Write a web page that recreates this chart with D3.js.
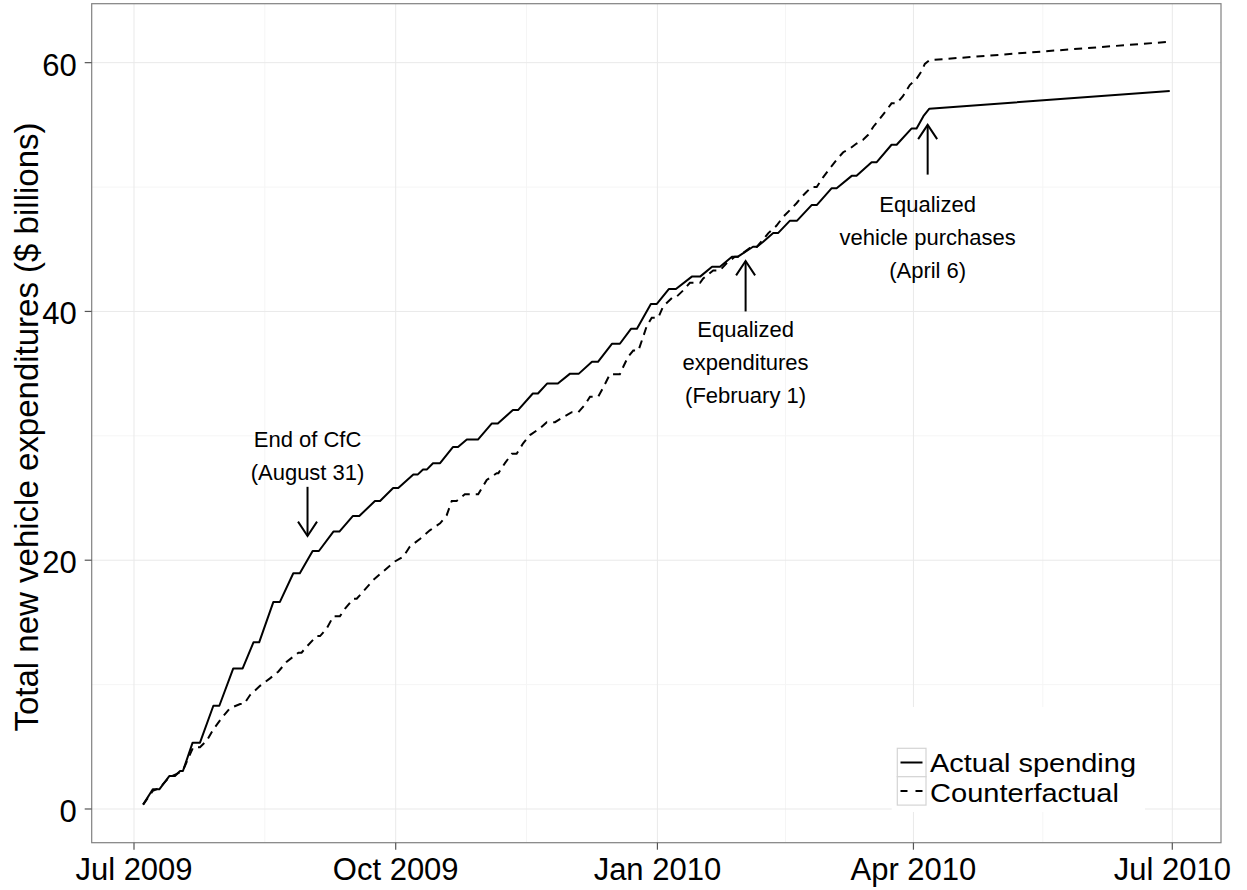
<!DOCTYPE html>
<html><head><meta charset="utf-8">
<script src="https://cdn.jsdelivr.net/npm/d3@7"></script>
<style>body{margin:0;background:#fff;} svg{display:block;font-family:"Liberation Sans",Arial,Helvetica,sans-serif;}</style>
</head><body><svg id="chart" width="1247" height="890"></svg>
<script>
// ---- data (days since 2009-07-01, $ billions) ----
const xTickDates = ["2009-07-01","2009-10-01","2010-01-01","2010-04-01","2010-07-01"];
const xTickLabels = ["Jul 2009","Oct 2009","Jan 2010","Apr 2010","Jul 2010"];
const yTicks = [0,20,40,60];
const yMinorTicks = [10,30,50];
const seriesNames = ["Actual spending","Counterfactual"];
const actual = [[3.2,0.35],[6.6,1.58],[8.9,1.58],[12.4,2.65],[14.4,2.65],[16.2,3.05],[17.2,3.05],[20.6,5.33],[23.2,5.33],[27.9,8.3],[30.0,8.3],[34.9,11.3],[38.2,11.3],[42.0,13.4],[44.0,13.4],[49.0,16.65],[51.3,16.65],[56.0,18.95],[58.3,18.95],[62.8,20.74],[65.0,20.74],[70.1,22.3],[72.2,22.3],[76.9,23.55],[79.2,23.55],[84.7,24.76],[86.5,24.76],[91.1,25.8],[92.9,25.8],[98.2,26.9],[99.8,26.9],[101.6,27.3],[103.0,27.3],[105.1,27.8],[107.6,27.8],[112.1,29.1],[113.9,29.1],[117.0,29.7],[120.9,29.7],[125.8,31.0],[127.9,31.0],[133.2,32.07],[135.0,32.07],[140.2,33.4],[142.0,33.4],[145.2,34.2],[149.0,34.2],[153.3,35.0],[156.4,35.0],[161.0,35.95],[163.1,35.95],[168.0,37.4],[170.8,37.4],[174.7,38.6],[176.8,38.6],[181.7,40.6],[183.8,40.6],[188.0,41.8],[190.5,41.8],[196.1,42.8],[199.0,42.8],[203.2,43.6],[206.0,43.6],[210.2,44.4],[212.3,44.4],[217.6,45.2],[219.0,45.2],[221.2,45.6],[224.7,46.3],[226.4,46.3],[230.6,47.3],[233.1,47.3],[238.2,48.55],[240.0,48.55],[245.2,49.9],[247.0,49.9],[252.3,50.9],[254.0,50.9],[259.3,52.0],[261.1,52.0],[266.3,53.4],[268.1,53.4],[273.3,54.7],[275.1,54.7],[277.5,55.7],[279.6,56.3],[364.1,57.72]];
const counterfactual = [[3.2,0.35],[6.6,1.45],[9.0,1.7],[12.4,2.55],[14.4,2.75],[17.2,3.1],[20.8,4.96],[23.2,4.96],[25.6,5.5],[27.9,6.4],[30.8,7.3],[33.7,8.1],[37.3,8.44],[38.7,8.44],[40.8,9.16],[44.3,9.9],[47.8,10.5],[50.7,11.04],[53.7,11.84],[57.8,12.57],[58.9,12.57],[60.7,13.05],[64.2,13.9],[65.4,13.9],[67.7,14.5],[70.1,15.5],[72.4,15.5],[74.2,16.1],[77.1,16.9],[78.3,16.9],[80.6,17.5],[84.1,18.4],[87.6,19.1],[91.7,19.9],[94.7,20.3],[97.0,21.1],[100.5,21.7],[104.0,22.4],[107.6,22.97],[109.9,23.6],[111.7,24.76],[113.4,24.76],[116.3,25.3],[121.0,25.3],[124.0,26.45],[127.5,27.0],[128.1,27.0],[130.4,27.8],[132.8,28.55],[134.5,28.55],[136.8,29.4],[139.2,30.06],[142.7,30.6],[145.1,31.1],[148.0,31.1],[150.9,31.5],[153.9,31.9],[156.2,31.9],[158.5,32.5],[160.3,33.15],[163.2,33.15],[165.0,33.9],[167.3,34.95],[170.8,34.95],[172.0,35.55],[173.7,36.36],[175.5,36.85],[177.3,36.85],[179.0,37.97],[180.2,38.8],[182.0,39.5],[184.3,39.5],[186.0,40.4],[189.6,41.2],[190.8,41.2],[193.1,41.7],[195.4,42.3],[199.0,42.3],[200.1,42.66],[203.6,43.3],[206.0,43.3],[208.3,43.87],[211.2,44.4],[212.3,44.4],[216.5,45.1],[219.0,45.2],[221.2,45.8],[223.0,46.3],[225.9,46.9],[228.2,47.6],[230.6,48.15],[232.9,48.7],[234.7,49.2],[236.4,49.6],[238.2,50.0],[240.0,50.0],[242.3,50.8],[244.6,51.5],[247.0,52.2],[249.3,52.8],[251.7,53.1],[254.0,53.5],[256.3,53.8],[258.1,54.2],[259.9,54.85],[262.2,55.5],[264.6,56.2],[266.3,56.73],[268.1,56.73],[270.3,57.3],[272.7,58.2],[275.1,58.7],[276.8,59.3],[278.0,59.9],[279.6,60.2],[364.1,61.68]];
// annotations: day, arrow tail value, arrow tip value, first text baseline value, lines
const annotDays = [61, 215, 279];
const annotTail = [25.9, 40.0, 51.0];
const annotTip = [21.95, 44.05, 55.0];
const annotTextY = [29.1, 37.95, 48.0];
const annotLines = [["End of CfC","(August 31)"],["Equalized","expenditures","(February 1)"],["Equalized","vehicle purchases","(April 6)"]];

// ---- layout ----
const svg = d3.select("#chart");
const P = {l:91.7, r:1221, t:3.7, b:842.7};
const t0 = Date.UTC(2009,6,1);
const toDate = d => new Date(t0 + d*864e5);
const x = d3.scaleUtc().domain([toDate(-14.87), toDate(382.12)]).range([P.l, P.r]);
const y = d3.scaleLinear().domain([-2.71, 64.74]).range([P.b, P.t]);
const majorX = xTickDates.map(s => new Date(s+"T00:00:00Z"));
const minorX = d3.pairs(majorX).map(([a,b]) => new Date((+a + +b)/2));

svg.append("rect").attr("width",1247).attr("height",890).attr("fill","#fff");
const grid = svg.append("g");
grid.selectAll(".mny").data(yMinorTicks).join("line")
  .attr("x1",P.l).attr("x2",P.r).attr("y1",d=>y(d)).attr("y2",d=>y(d)).attr("stroke","#f5f5f5").attr("stroke-width",1);
grid.selectAll(".mnx").data(minorX).join("line")
  .attr("x1",d=>x(d)).attr("x2",d=>x(d)).attr("y1",P.t).attr("y2",P.b).attr("stroke","#f5f5f5").attr("stroke-width",1);
grid.selectAll(".mjy").data(yTicks).join("line")
  .attr("x1",P.l).attr("x2",P.r).attr("y1",d=>y(d)).attr("y2",d=>y(d)).attr("stroke","#e9e9e9").attr("stroke-width",1);
grid.selectAll(".mjx").data(majorX).join("line")
  .attr("x1",d=>x(d)).attr("x2",d=>x(d)).attr("y1",P.t).attr("y2",P.b).attr("stroke","#e9e9e9").attr("stroke-width",1);

// lines
const line = d3.line().x(d=>x(toDate(d[0]))).y(d=>y(d[1]));
svg.append("path").datum(actual).attr("d",line).attr("fill","none").attr("stroke","#000").attr("stroke-width",2).attr("stroke-linejoin","round");
svg.append("path").datum(counterfactual).attr("d",line).attr("fill","none").attr("stroke","#000").attr("stroke-width",2).attr("stroke-dasharray","8,6");

// annotations
annotDays.forEach((d,i) => {
  const ax = x(toDate(d));
  const ty = y(annotTip[i]), tl = y(annotTail[i]);
  const dir = ty > tl ? -1 : 1;
  svg.append("line").attr("x1",ax).attr("x2",ax).attr("y1",tl).attr("y2",ty).attr("stroke","#000").attr("stroke-width",2);
  svg.append("path").attr("d",`M${ax-9.5},${ty+dir*14.3}L${ax},${ty}L${ax+9.5},${ty+dir*14.3}`)
    .attr("fill","none").attr("stroke","#000").attr("stroke-width",2);
  const tx = svg.append("text").attr("x",ax).attr("y",y(annotTextY[i])).attr("text-anchor","middle")
    .attr("font-size",22).attr("fill","#000");
  annotLines[i].forEach((s,j) => tx.append("tspan").attr("x",ax).attr("dy",j?32.8:0).text(s));
});

// panel border
svg.append("rect").attr("x",P.l).attr("y",P.t).attr("width",P.r-P.l).attr("height",P.b-P.t)
  .attr("fill","none").attr("stroke","#808080").attr("stroke-width",1.2);

// axes
const gy = svg.append("g");
gy.selectAll("line").data(yTicks).join("line").attr("x1",P.l-7).attr("x2",P.l).attr("y1",d=>y(d)).attr("y2",d=>y(d)).attr("stroke","#555").attr("stroke-width",1.2);
gy.selectAll("text").data(yTicks).join("text").attr("x",P.l-15).attr("y",d=>y(d)).attr("dy","0.42em")
  .attr("text-anchor","end").attr("font-size",31).attr("fill","#000").text(d=>d);
const gx = svg.append("g");
gx.selectAll("line").data(majorX).join("line").attr("x1",d=>x(d)).attr("x2",d=>x(d)).attr("y1",P.b).attr("y2",P.b+7).attr("stroke","#555").attr("stroke-width",1.2);
gx.selectAll("text").data(majorX).join("text").attr("x",d=>x(d)).attr("y",880).attr("text-anchor","middle")
  .attr("font-size",31).attr("fill","#000").text((d,i)=>xTickLabels[i]);
svg.append("text").attr("transform","translate(38,427) rotate(-90)").attr("text-anchor","middle")
  .attr("font-size",33).attr("fill","#000").text("Total new vehicle expenditures ($ billions)");

// legend
const legendTextLen = [206, 189];
const lg = svg.append("g");
lg.append("rect").attr("x",891.7).attr("y",707).attr("width",253.3).attr("height",105).attr("fill","#fff");
seriesNames.forEach((name,i) => {
  const ky = 748.3 + i*28.4;
  lg.append("rect").attr("x",897.3).attr("y",ky).attr("width",28.7).attr("height",28.4).attr("fill","#fff").attr("stroke","#d4d4d4").attr("stroke-width",1.2);
  lg.append("line").attr("x1",900.5).attr("x2",922.5).attr("y1",ky+14.2).attr("y2",ky+14.2).attr("stroke","#000").attr("stroke-width",2)
    .attr("stroke-dasharray", i ? "7,8" : null);
  lg.append("text").attr("x",930).attr("y",771.5 + i*30).attr("font-size",26)
    .attr("textLength",legendTextLen[i]).attr("lengthAdjust","spacingAndGlyphs").attr("fill","#000").text(name);
});
</script></body></html>
